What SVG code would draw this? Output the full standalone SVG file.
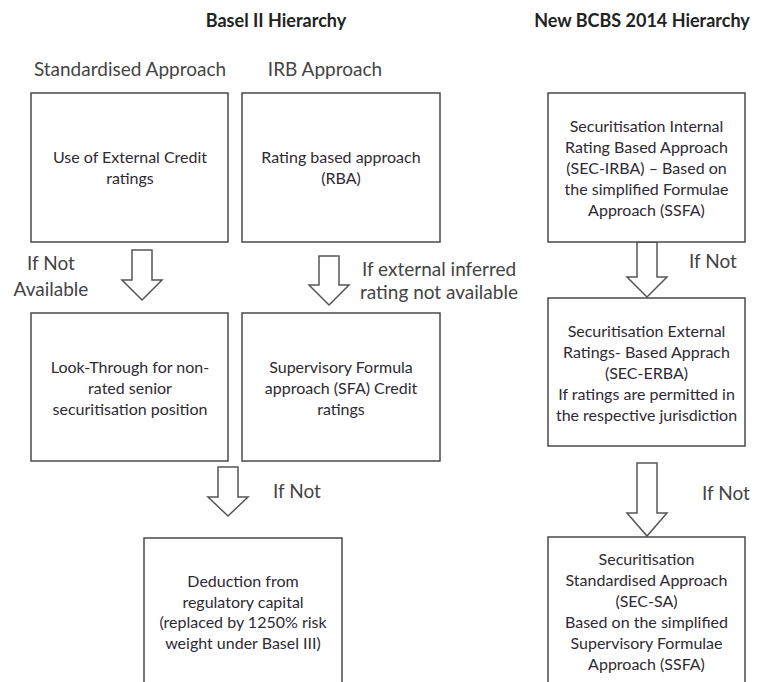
<svg xmlns="http://www.w3.org/2000/svg" width="762" height="682" viewBox="0 0 762 682">
<style>
.box{fill:#fff;stroke:#4a4a4a;stroke-width:1.5}
.arr{fill:#fff;stroke:#555;stroke-width:1.5;stroke-linejoin:miter}
.t{font-family:Lato,"Open Sans","Liberation Sans",sans-serif;font-size:16px;fill:#2e2a33;text-anchor:middle}
.h{font-family:Lato,"Open Sans","Liberation Sans",sans-serif;font-size:18px;font-weight:bold;fill:#222;text-anchor:middle}
.s{font-family:Lato,"Open Sans","Liberation Sans",sans-serif;font-size:19px;fill:#444;text-anchor:middle}
</style>
<rect width="762" height="682" fill="#fff"/>
<g id="titles">
<text class="h" x="276" y="27">Basel II Hierarchy</text>
<text class="h" x="642" y="27">New BCBS 2014 Hierarchy</text>
<text class="s" x="130" y="76">Standardised Approach</text>
<text class="s" x="325" y="76">IRB Approach</text>
</g>
<g id="connectors">
<path class="arr" d="M132,250 H152 V280 H162 L142,300 L122,280 H132 Z"/>
<path class="arr" d="M319,256 H339 V285 H349 L329,305 L309,285 H319 Z"/>
<path class="arr" d="M218,467 H238 V497 H248 L228,516 L208,497 H218 Z"/>
<path class="arr" d="M637,242 H657 V277 H667 L647,297 L627,277 H637 Z"/>
<path class="arr" d="M637,463 H657 V513 H667 L647,536 L627,513 H637 Z"/>
<text class="s" x="51" y="270">If Not</text>
<text class="s" x="51" y="296">Available</text>
<text class="s" x="439" y="276">If external inferred</text>
<text class="s" x="439" y="299">rating not available</text>
<text class="s" x="297" y="498">If Not</text>
<text class="s" x="713" y="268">If Not</text>
<text class="s" x="726" y="500">If Not</text>
</g>
<g id="node-external-credit">
<rect class="box" x="31" y="93" width="197" height="149"/>
<text class="t" x="130" y="163">Use of External Credit</text>
<text class="t" x="130" y="184">ratings</text>
</g>
<g id="node-rba">
<rect class="box" x="242" y="93" width="198" height="149"/>
<text class="t" x="341" y="163">Rating based approach</text>
<text class="t" x="341" y="184">(RBA)</text>
</g>
<g id="node-sec-irba">
<rect class="box" x="548" y="93" width="197" height="149"/>
<text class="t" x="646.5" y="132">Securitisation Internal</text>
<text class="t" x="646.5" y="153">Rating Based Approach</text>
<text class="t" x="646.5" y="174">(SEC-IRBA) – Based on</text>
<text class="t" x="646.5" y="195">the simplified Formulae</text>
<text class="t" x="646.5" y="216">Approach (SSFA)</text>
</g>
<g id="node-look-through">
<rect class="box" x="31" y="313" width="197" height="148"/>
<text class="t" x="130" y="373">Look-Through for non-</text>
<text class="t" x="130" y="394">rated senior</text>
<text class="t" x="130" y="415">securitisation position</text>
</g>
<g id="node-sfa">
<rect class="box" x="242" y="313" width="198" height="148"/>
<text class="t" x="341" y="373">Supervisory Formula</text>
<text class="t" x="341" y="394">approach (SFA) Credit</text>
<text class="t" x="341" y="415">ratings</text>
</g>
<g id="node-sec-erba">
<rect class="box" x="548" y="298" width="197" height="148"/>
<text class="t" x="646.5" y="337">Securitisation External</text>
<text class="t" x="646.5" y="358">Ratings- Based Apprach</text>
<text class="t" x="646.5" y="379">(SEC-ERBA)</text>
<text class="t" x="646.5" y="400">If ratings are permitted in</text>
<text class="t" x="646.5" y="421">the respective jurisdiction</text>
</g>
<g id="node-deduction">
<rect class="box" x="144" y="538" width="198" height="160"/>
<text class="t" x="243" y="587">Deduction from</text>
<text class="t" x="243" y="608">regulatory capital</text>
<text class="t" x="243" y="628">(replaced by 1250% risk</text>
<text class="t" x="243" y="649">weight under Basel III)</text>
</g>
<g id="node-sec-sa">
<rect class="box" x="548" y="537" width="197" height="160"/>
<text class="t" x="646.5" y="565">Securitisation</text>
<text class="t" x="646.5" y="586">Standardised Approach</text>
<text class="t" x="646.5" y="607">(SEC-SA)</text>
<text class="t" x="646.5" y="628">Based on the simplified</text>
<text class="t" x="646.5" y="649">Supervisory Formulae</text>
<text class="t" x="646.5" y="670">Approach (SSFA)</text>
</g>
</svg>
